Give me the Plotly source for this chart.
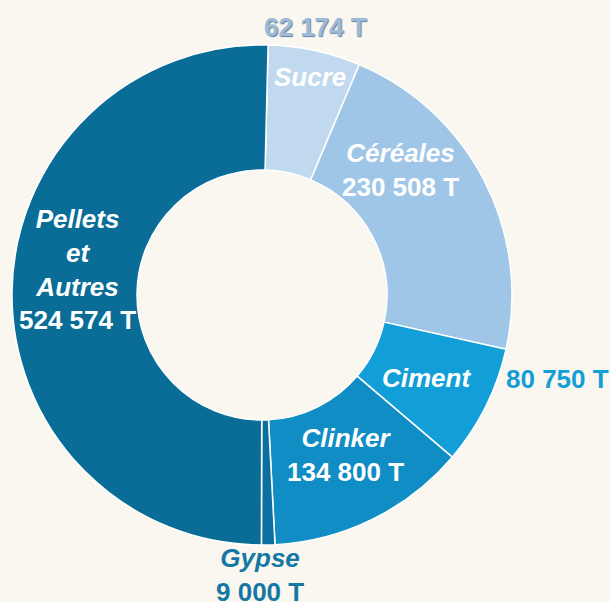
import math
import plotly.graph_objects as go

labels = ["Sucre", "Céréales", "Ciment", "Clinker", "Gypse", "Pellets et Autres"]
names_display = ["Sucre", "Céréales", "Ciment", "Clinker", "Gypse", "Pellets<br>et<br>Autres"]
values = [62174, 230508, 80750, 134800, 9000, 524574]
value_text = ["62 174 T", "230 508 T", "80 750 T", "134 800 T", "9 000 T", "524 574 T"]
colors = ["#C0D9EE", "#A0C6E7", "#129FD8", "#0F8DC4", "#0B70A0", "#0A6D97"]
outer_colors = ["#9DBAD7", "#9DBAD7", "#139FD6", "#139FD6", "#1477A4", "#0A6D97"]

# style: where each part of a label goes and its pixel nudge from the slice mid-angle anchor
outside_mode = {"Sucre": "value", "Ciment": "value", "Gypse": "both"}
outside_shift = {"Sucre": (7, -22), "Ciment": (69, -22), "Gypse": (-14, 30)}
inside_shift = {"Sucre": (13, -34), "Céréales": (-26, -35), "Ciment": (-5, 3),
                "Clinker": (-4, -6), "Pellets et Autres": (3, -28)}

W, H = 610, 602
cx, cy, R = 262, 295, 250
HOLE = 0.5
ROTATION = 1.4
INNER_R = 0.75 * R
dom_x = [(cx - R) / W, (cx + R) / W]
dom_y = [1 - (cy + R) / H, 1 - (cy - R) / H]
FONT = "Liberation Sans, Arial, sans-serif"
FS = 26

fig = go.Figure()
fig.add_trace(go.Pie(
    labels=labels, values=values, textinfo="none",
    sort=False, direction="clockwise", rotation=ROTATION, hole=HOLE,
    marker=dict(colors=colors, line=dict(color="white", width=1.5)),
    domain=dict(x=dom_x, y=dom_y), showlegend=False, hoverinfo="skip",
))


def add_label(px, py, txt, shift, color, shadow=None):
    font = dict(family=FONT, size=FS, color=color)
    if shadow:
        font["shadow"] = shadow
    fig.add_annotation(
        x=(px + shift[0]) / W, y=1 - (py + shift[1]) / H, xref="paper", yref="paper",
        xanchor="center", yanchor="middle",
        text=txt, showarrow=False, font=font, align="center",
    )


total = sum(values)
cum = 0
for i, lab in enumerate(labels):
    mid = (cum + values[i] / 2) / total * 2 * math.pi
    cum += values[i]
    n = "<b><i>" + names_display[i] + "</i></b>"
    v = "<b>" + value_text[i] + "</b>"
    mode = outside_mode.get(lab)
    # inside part
    ix = cx + INNER_R * math.sin(mid)
    iy = cy - INNER_R * math.cos(mid)
    if mode == "value":
        add_label(ix, iy, n, inside_shift[lab], "white")
    elif mode is None:
        add_label(ix, iy, n + "<br>" + v, inside_shift[lab], "white")
    # outside part
    if mode:
        ox = cx + R * math.sin(mid)
        oy = cy - R * math.cos(mid)
        txt = v if mode == "value" else n + "<br>" + v
        add_label(ox, oy, txt, outside_shift[lab], outer_colors[i],
                  "1px 1px 1px #5d82a8" if lab == "Sucre" else None)

fig.update_layout(
    width=W, height=H, margin=dict(l=0, r=0, t=0, b=0),
    paper_bgcolor="#F9F7EF", plot_bgcolor="#F9F7EF",
)
fig.write_html(
    "out.html",
    config={"displayModeBar": False},
    post_script="document.body.style.margin='0';document.body.style.background='#F9F7EF';",
)
